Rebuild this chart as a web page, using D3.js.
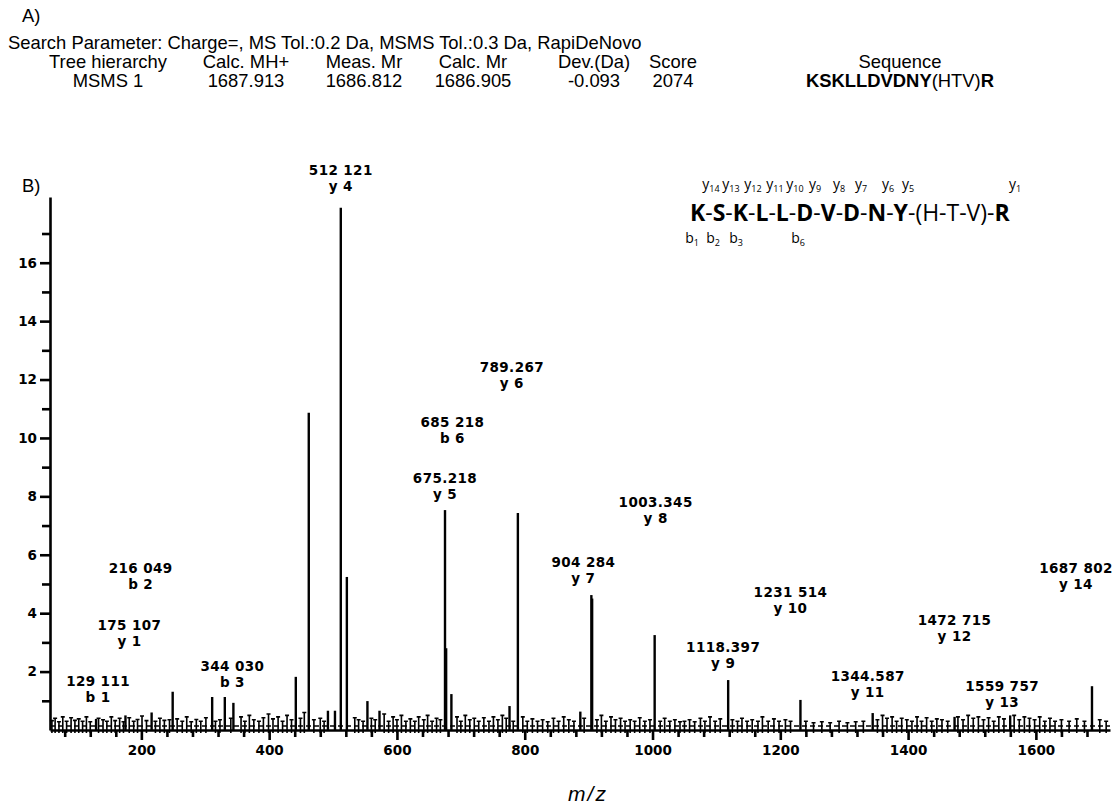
<!DOCTYPE html>
<html>
<head>
<meta charset="utf-8">
<script src="https://cdn.jsdelivr.net/npm/d3@7/dist/d3.min.js"></script>
<style>
  body { margin: 0; background: #fff; }
  svg { display: block; }
  .tbl { font-family: "Liberation Sans", Arial, sans-serif; font-size: 18.4px; fill: #000; }
  .pk { font-family: "DejaVu Sans", sans-serif; font-weight: bold; font-size: 13.5px; fill: #000; }
  .axis text { font-family: "DejaVu Sans", sans-serif; font-weight: bold; font-size: 13.5px; fill: #000; }
  .axis line, .axis path { stroke: #000; stroke-width: 2.6; }
  .seq { font-family: "Open Sans", sans-serif; fill: #000; }
</style>
</head>
<body>
<script>
// ---- panel A: search result table
const searchParams = "Search Parameter: Charge=, MS Tol.:0.2 Da, MSMS Tol.:0.3 Da, RapiDeNovo";
const headers = ["Tree hierarchy", "Calc. MH+", "Meas. Mr", "Calc. Mr", "Dev.(Da)", "Score", "Sequence"];
const rowValues = ["MSMS 1", "1687.913", "1686.812", "1686.905", "-0.093", "2074"];
const rowSequence = [["KSKLLDVDNY", true], ["(HTV)", false], ["R", true]];

// ---- panel B: annotated fragment ions (m/z, label, ion, intensity, label level)
const ionMz    = [129.111, 175.107, 216.049, 344.030, 512.121, 675.218, 685.218, 789.267, 904.284, 1003.345, 1118.397, 1231.514, 1344.587, 1472.715, 1559.757, 1687.802];
const ionText  = ["129 111", "175 107", "216 049", "344 030", "512 121", "675.218", "685 218", "789.267", "904 284", "1003.345", "1118.397", "1231 514", "1344.587", "1472 715", "1559 757", "1687 802"];
const ionName  = ["b 1", "y 1", "b 2", "b 3", "y 4", "y 5", "b 6", "y 6", "y 7", "y 8", "y 9", "y 10", "y 11", "y 12", "y 13", "y 14"];
const ionInt   = [0.38, 0.5, 0.6, 0.93, 17.88, 7.53, 1.23, 7.43, 4.62, 3.25, 1.71, 1.03, 0.58, 0.45, 0.5, 1.5];
const ionLevel = [1.68, 3.6, 5.55, 2.19, 19.18, 8.63, 10.55, 12.43, 5.75, 7.81, 2.84, 4.73, 1.85, 3.77, 1.51, 5.55];

// unlabelled peaks
const otherMz  = [249, 310.8, 330.6, 441.7, 462, 492, 503, 521.6, 553.8, 572.7, 677, 776.2, 887, 905.5];
const otherInt = [1.31, 1.13, 1.13, 1.82, 10.86, 0.66, 0.66, 5.24, 0.99, 0.66, 2.8, 0.82, 0.63, 4.5];

// baseline noise [m/z, intensity]
const noise = [
  [60,.32],[65,.4],[71,.28],[77,.45],[83,.3],[90,.42],[96,.33],[102,.38],[108,.3],[114,.45],[120,.28],[133,.4],
  [140,.35],[146,.3],[153,.45],[159,.32],[166,.4],[172,.28],[181,.42],[188,.3],[194,.36],[201,.48],[208,.32],
  [222,.3],[229,.4],[236,.33],[244,.35],[256,.38],[264,.3],[271,.45],[278,.28],[286,.36],[293,.3],[301,.42],
  [316,.3],[323,.35],[340,.4],[356,.45],[362,.3],[369,.5],[376,.35],[384,.3],[391,.42],[399,.55],[406,.38],
  [414,.45],[421,.3],[428,.5],[435,.35],[449,.4],[455,.6],[470,.35],[480,.4],[486,.3],[534,.42],[540,.35],
  [547,.3],[560,.4],[566,.35],[580,.55],[587,.3],[594,.45],[600,.35],[607,.5],[614,.3],[621,.38],[628,.3],
  [634,.45],[642,.35],[648,.5],[655,.3],[662,.4],[668,.35],[694,.45],[700,.3],[707,.5],[714,.35],[721,.4],
  [728,.3],[736,.42],[744,.3],[751,.45],[758,.35],[765,.5],[771,.4],[782,.3],[797,.45],[804,.3],[812,.38],
  [820,.3],[828,.35],[836,.28],[845,.4],[853,.3],[861,.45],[869,.35],[877,.3],[893,.4],[913,.35],[920,.5],
  [927,.3],[935,.45],[942,.35],[950,.4],[957,.3],[965,.35],[972,.3],[980,.42],[988,.3],[996,.35],[1012,.3],
  [1019,.4],[1027,.3],[1035,.35],[1043,.28],[1050,.3],[1058,.35],[1066,.28],[1075,.4],[1082,.3],[1090,.45],
  [1098,.3],[1106,.38],[1125,.35],[1133,.3],[1140,.4],[1148,.3],[1156,.35],[1165,.3],[1172,.45],[1181,.3],
  [1190,.38],[1198,.3],[1208,.35],[1216,.3],[1240,.3],[1252,.25],[1265,.28],[1278,.25],[1292,.3],[1305,.25],
  [1318,.28],[1330,.3],[1352,.35],[1360,.5],[1367,.4],[1375,.45],[1382,.3],[1390,.4],[1398,.35],[1406,.3],
  [1414,.45],[1421,.3],[1429,.42],[1437,.3],[1445,.38],[1453,.35],[1462,.3],[1478,.45],[1486,.35],[1494,.5],
  [1502,.4],[1510,.45],[1518,.35],[1526,.42],[1534,.3],[1542,.45],[1550,.38],[1566,.5],[1574,.35],[1582,.45],
  [1590,.4],[1598,.35],[1606,.45],[1614,.3],[1622,.4],[1630,.3],[1640,.35],[1652,.3],[1664,.38],[1676,.3],
  [1700,.35],[1710,.3]
];

// axis ticks
const yMajor = [2, 4, 6, 8, 10, 12, 14, 16];
const yMinor = [1, 3, 5, 7, 9, 11, 13, 15, 17];
const xMajor = [200, 400, 600, 800, 1000, 1200, 1400, 1600];
const xMinor = [80, 120, 160, 240, 280, 320, 360, 440, 480, 520, 560, 640, 680, 720, 760, 840, 880, 920, 960,
                1040, 1080, 1120, 1160, 1240, 1280, 1320, 1360, 1440, 1480, 1520, 1560, 1640, 1680];

// peptide ladder
const residues = [["K",1],["-",0],["S",1],["-",0],["K",1],["-",0],["L",1],["-",0],["L",1],["-",0],["D",1],["-",0],
                  ["V",1],["-",0],["D",1],["-",0],["N",1],["-",0],["Y",1],["-",0],["(H-T-V)",0],["-",0],["R",1]];
const yIons = ["14", "13", "12", "11", "10", "9", "8", "7", "6", "5", "1"];
const bIons = ["1", "2", "3", "6"];

// layout (pixels)
const colX = [108, 246, 364, 473, 594, 673, 900];
const labelDx = [2, 4, -11, -1, 0, 0, 1, -6, -8, 1, -5, -10, -5, 0, -8, -16];
const yIonX = [711, 731, 753, 775, 795, 815, 839, 861, 888, 908, 1015];
const bIonX = [692, 713, 736, 798];

const svg = d3.select("body").append("svg")
    .attr("width", 1118)
    .attr("height", 805);

// panel A
svg.append("text").attr("class", "tbl").attr("x", 22).attr("y", 22).text("A)");
svg.append("text").attr("class", "tbl").attr("x", 8).attr("y", 49).text(searchParams);
headers.forEach((h, i) => {
  svg.append("text").attr("class", "tbl").attr("x", colX[i]).attr("y", 68)
      .attr("text-anchor", "middle").text(h);
});
rowValues.forEach((v, i) => {
  svg.append("text").attr("class", "tbl").attr("x", colX[i]).attr("y", 87)
      .attr("text-anchor", "middle").text(v);
});
let seqT = svg.append("text").attr("class", "tbl").attr("x", colX[6]).attr("y", 87)
    .attr("text-anchor", "middle");
rowSequence.forEach(s => seqT.append("tspan").attr("font-weight", s[1] ? "bold" : "normal").text(s[0]));

// panel B
svg.append("text").attr("class", "tbl").attr("x", 22).attr("y", 192).text("B)");

var x = d3.scaleLinear().domain([57, 1716]).range([50, 1110]);
var y = d3.scaleLinear().domain([0, 18.25]).range([730, 197]);

// y axis
svg.append("g").attr("class", "axis")
    .attr("transform", "translate(50,0)")
    .call(d3.axisLeft(y).tickValues(yMajor).tickSize(10).tickSizeOuter(0).tickPadding(3).tickFormat(d3.format("d")));
svg.append("g").attr("class", "axis")
    .attr("transform", "translate(50,0)")
    .call(d3.axisLeft(y).tickValues(yMinor).tickSize(8).tickSizeOuter(0).tickFormat(""))
    .select(".domain").remove();

// x axis
svg.append("g").attr("class", "axis")
    .attr("transform", "translate(0," + y(0) + ")")
    .call(d3.axisBottom(x).tickValues(xMajor).tickSize(10).tickSizeOuter(0).tickPadding(5).tickFormat(d3.format("d")));
svg.append("g").attr("class", "axis")
    .attr("transform", "translate(0," + y(0) + ")")
    .call(d3.axisBottom(x).tickValues(xMinor).tickSize(7).tickSizeOuter(0).tickFormat(""))
    .select(".domain").remove();

// noise sticks with small caps
let nz = svg.append("g").attr("stroke", "#000").attr("stroke-width", 1.6).attr("fill", "none");
nz.selectAll("path").data(noise).enter().append("path")
    .attr("d", d => {
      let px = x(d[0]), py = y(d[1]);
      return "M" + px + "," + (y(0) + 3) + "V" + py + "M" + (px - 2) + "," + py + "H" + (px + 2);
    });
nz.append("path")
    .attr("d", "M" + x(57) + "," + (y(0) - 4) + "H" + x(1716))
    .attr("stroke-dasharray", "5,3");

// peaks
let peaks = ionMz.map((m, i) => [m, ionInt[i]]).concat(otherMz.map((m, i) => [m, otherInt[i]]));
svg.selectAll(".peak").data(peaks).enter().append("line")
    .attr("class", "peak")
    .attr("x1", d => x(d[0])).attr("x2", d => x(d[0]))
    .attr("y1", y(0)).attr("y2", d => y(d[1]))
    .attr("stroke", "#000").attr("stroke-width", 2.4);

// peak labels
ionMz.forEach((m, i) => {
  let cx = x(m) + labelDx[i], cy = y(ionLevel[i]);
  svg.append("text").attr("class", "pk").attr("x", cx).attr("y", cy + 5)
      .attr("text-anchor", "middle").attr("letter-spacing", "0.4px").text(ionText[i]);
  svg.append("text").attr("class", "pk").attr("x", cx).attr("y", cy + 21)
      .attr("text-anchor", "middle").attr("letter-spacing", "0.4px").text(ionName[i]);
});

// x label
svg.append("text").attr("x", 588).attr("y", 801).attr("text-anchor", "middle")
    .attr("font-family", "Liberation Sans, Arial, sans-serif").attr("font-style", "italic")
    .attr("font-size", "21px").attr("letter-spacing", "2px").text("m/z");

// peptide sequence with fragment ladder
let seq = svg.append("text").attr("class", "seq").attr("x", 690).attr("y", 221).attr("font-size", "23px");
residues.forEach(r => seq.append("tspan").attr("font-weight", r[1] ? "bold" : "normal").text(r[0]));

yIons.forEach((n, i) => {
  let t = svg.append("text").attr("class", "seq").attr("x", yIonX[i]).attr("y", 189)
      .attr("text-anchor", "middle").attr("font-size", "14px");
  t.append("tspan").text("y");
  t.append("tspan").attr("font-size", "9px").attr("dy", 3).text(n);
});
bIons.forEach((n, i) => {
  let t = svg.append("text").attr("class", "seq").attr("x", bIonX[i]).attr("y", 243)
      .attr("text-anchor", "middle").attr("font-size", "14px");
  t.append("tspan").text("b");
  t.append("tspan").attr("font-size", "9px").attr("dy", 3).text(n);
});
</script>
</body>
</html>
